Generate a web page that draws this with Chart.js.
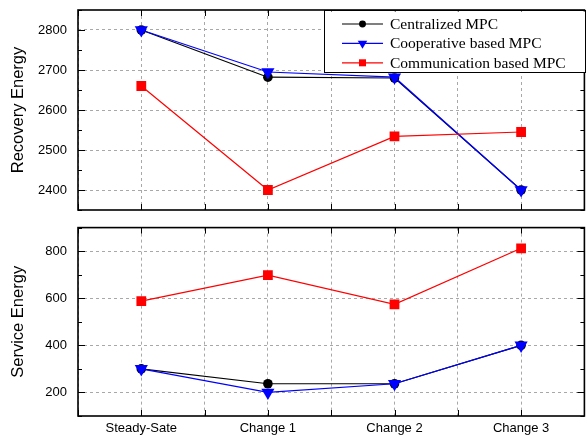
<!DOCTYPE html>
<html>
<head>
<meta charset="utf-8">
<script src="https://cdn.jsdelivr.net/npm/chart.js@4.4.1/dist/chart.umd.min.js"></script>
<style>
  html, body { margin:0; padding:0; background:#fff; overflow:hidden; }
  #wrap { position:relative; width:586px; height:439px; overflow:hidden; }
  canvas { position:absolute; left:0; }
  #top { top:0; }
  #bot { top:220px; }
</style>
</head>
<body>
<div id="wrap">
  <canvas id="top" width="592" height="220"></canvas>
  <canvas id="bot" width="592" height="219"></canvas>
</div>
<script>
// data
const categories = ["Steady-Sate", "Change 1", "Change 2", "Change 3"];
const seriesNames = ["Centralized MPC", "Cooperative based MPC", "Communication based MPC"];

const recCentral = [2800, 2682, 2680, 2400];
const recCoop    = [2800, 2695, 2682, 2400];
const recComm    = [2660, 2400, 2534, 2545];

const svcCentral = [300, 237, 237, 400];
const svcCoop    = [300, 200, 237, 400];
const svcComm    = [588, 698, 574, 812];

const recTicks = [2400, 2500, 2600, 2700, 2800];
const svcTicks = [200, 400, 600, 800];

const SANS = "'Liberation Sans', Arial, sans-serif";
const SERIF = "'Liberation Serif', 'Times New Roman', serif";

const looks = [
  { color:"#000000", pointStyle:"circle",   radius:4.8, rotation:0,   order:3 },
  { color:"#0000ff", pointStyle:"triangle", radius:7.6, rotation:180, order:2 },
  { color:"#ff0000", pointStyle:"rect",     radius:6.9, rotation:0,   order:1 }
];

function makeDatasets(arrs){
  return arrs.map((vals, k) => ({
    label: seriesNames[k],
    data: vals.map((v, i) => ({ x:i, y:v })),
    borderColor: looks[k].color,
    backgroundColor: looks[k].color,
    pointStyle: looks[k].pointStyle,
    pointRadius: looks[k].radius,
    pointRotation: looks[k].rotation,
    pointBorderWidth: 0,
    borderWidth: 1.2,
    order: looks[k].order,
    tension: 0
  }));
}

function marker(ctx, style, x, y, r, color){
  ctx.fillStyle = color;
  ctx.beginPath();
  if(style === "circle"){
    ctx.arc(x, y, r, 0, Math.PI*2);
  } else if(style === "triangle"){
    // pointing down
    ctx.moveTo(x - r*0.866, y - r*0.5);
    ctx.lineTo(x + r*0.866, y - r*0.5);
    ctx.lineTo(x, y + r);
    ctx.closePath();
  } else {
    const s = r*0.707;
    ctx.rect(x - s, y - s, 2*s, 2*s);
  }
  ctx.fill();
}

// box frame with inward ticks on all four sides
const framePlugin = {
  id: "frame",
  afterDatasetsDraw(chart){
    const { ctx, chartArea:a, scales:{ x, y } } = chart;
    ctx.save();
    ctx.strokeStyle = "#000";
    ctx.lineWidth = 1;
    ctx.beginPath();
    x.ticks.forEach(t => {
      const px = Math.round(x.getPixelForValue(t.value)) + 0.5;
      ctx.moveTo(px, a.bottom); ctx.lineTo(px, a.bottom - 6);
      ctx.moveTo(px, a.top);    ctx.lineTo(px, a.top + 6);
    });
    const step = (y.ticks[1].value - y.ticks[0].value) / 2;
    for(let v = y.min; v <= y.max + 1e-9; v += step){
      const major = y.ticks.some(t => Math.abs(t.value - v) < 1e-6);
      const len = major ? 7 : 4;
      const py = Math.round(y.getPixelForValue(v)) + 0.5;
      ctx.moveTo(a.left, py);  ctx.lineTo(a.left + len, py);
      ctx.moveTo(a.right, py); ctx.lineTo(a.right - len, py);
    }
    ctx.stroke();
    ctx.lineWidth = 1.6;
    ctx.strokeRect(a.left, a.top, a.right - a.left, a.bottom - a.top);
    ctx.restore();
  }
};

const legendPlugin = {
  id: "boxLegend",
  afterDatasetsDraw(chart){
    const ctx = chart.ctx;
    const x0 = 324.5, y0 = 10.5, w = 261, h = 62;
    ctx.save();
    ctx.fillStyle = "#fff";
    ctx.fillRect(x0, y0 + 1, w, h - 1);
    ctx.strokeStyle = "#000";
    ctx.lineWidth = 1;
    ctx.strokeRect(x0, y0, w, h);
    ctx.font = "15.5px " + SERIF;
    ctx.textBaseline = "middle";
    chart.data.datasets.forEach((ds, i) => {
      const yy = 24 + i*19.4;
      ctx.strokeStyle = ds.borderColor;
      ctx.lineWidth = 1.2;
      ctx.beginPath(); ctx.moveTo(342, yy); ctx.lineTo(383, yy); ctx.stroke();
      marker(ctx, ds.pointStyle, 362.5, yy, ds.pointRadius*0.72, ds.borderColor);
      ctx.fillStyle = "#000";
      ctx.fillText(ds.label, 390, yy + 1);
    });
    ctx.restore();
  }
};

const xPositions = [];
for(let i = 0; i <= categories.length*2; i++) xPositions.push(-0.5 + i*0.5);

function makeChart(id, arrs, yMin, yMax, yTicks, title, showX, withLegend){
  return new Chart(document.getElementById(id), {
    type: "line",
    data: { datasets: makeDatasets(arrs) },
    options: {
      responsive: false,
      animation: false,
      devicePixelRatio: 1,
      layout: { padding: showX ? { top:7, right:2, bottom:0, left:0 } : { top:10, right:2, bottom:10, left:0 } },
      plugins: { legend:{ display:false }, tooltip:{ enabled:false } },
      scales: {
        x: {
          type: "linear",
          min: -0.5, max: 3.5,
          afterBuildTicks: s => { s.ticks = xPositions.map(v => ({ value:v })); },
          afterFit: s => { s.height = showX ? 23 : 0; s.paddingLeft = 0; s.paddingRight = 0; },
          grid: { color:"#a8a8a8", drawTicks:false, lineWidth:1 },
          border: { display:false, dash:[3,3] },
          ticks: {
            display: showX, padding: 5, color: "#000", maxRotation: 0, autoSkip: false,
            font: { family:SANS, size:13 },
            callback: v => Number.isInteger(v) ? categories[v] : ""
          }
        },
        y: {
          min: yMin, max: yMax,
          afterBuildTicks: s => { s.ticks = yTicks.map(v => ({ value:v })); },
          afterFit: s => { s.width = 78; s.paddingTop = 0; s.paddingBottom = 0; },
          grid: { color:"#a8a8a8", drawTicks:false, lineWidth:1 },
          border: { display:false, dash:[3,3] },
          ticks: { padding: 11, color: "#000", font: { family:SANS, size:13 }, callback: v => String(v) },
          title: { display:true, text:title, color:"#000", font:{ family:SANS, size:16.5 }, padding:{ top:9, bottom:0 } }
        }
      }
    },
    plugins: withLegend ? [framePlugin, legendPlugin] : [framePlugin]
  });
}

makeChart("top", [recCentral, recCoop, recComm], 2350, 2850, recTicks, "Recovery Energy", false, true);
makeChart("bot", [svcCentral, svcCoop, svcComm], 100, 900, svcTicks, "Service Energy", true, false);
</script>
</body>
</html>
